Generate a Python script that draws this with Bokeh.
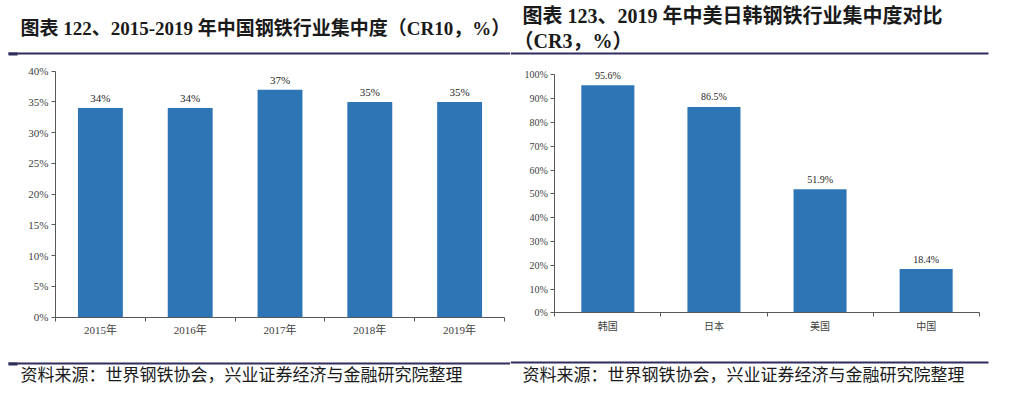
from bokeh.plotting import figure
from bokeh.models import (ColumnDataSource, Range1d, LinearAxis,
                          FixedTicker, PrintfTickFormatter, LabelSet, Label, BoxAnnotation)
from bokeh.layouts import row
from bokeh.core.properties import value
from bokeh.embed import file_html
from bokeh.resources import INLINE

# ---------------- data ----------------
left_title = "图表 122、2015-2019 年中国钢铁行业集中度（CR10，%）"
left_cats = ["2015年", "2016年", "2017年", "2018年", "2019年"]
left_vals = [34, 34, 37, 35, 35]
left_ticks = [0, 5, 10, 15, 20, 25, 30, 35, 40]

right_title_1 = "图表 123、2019 年中美日韩钢铁行业集中度对比"
right_title_2 = "（CR3，%）"
right_cats = ["韩国", "日本", "美国", "中国"]
right_vals = [95.6, 86.5, 51.9, 18.4]
right_ticks = [0, 10, 20, 30, 40, 50, 60, 70, 80, 90, 100]

source_text = "资料来源：世界钢铁协会，兴业证券经济与金融研究院整理"

BAR = "#2E75B6"
AXIS = "#595959"
NAVY = "#302D5F"
FONT = "Liberation Serif, Noto Sans CJK SC"
H = 388


def span(lo_px, hi_px, total_px, lo_val, hi_val):
    """Range whose lo_val/hi_val land at lo_px/hi_px of a total_px long frame."""
    scale = (hi_px - lo_px) / (hi_val - lo_val)
    start = lo_val - lo_px / scale
    return Range1d(start, start + total_px / scale)


def make_panel(width, cats, vals, ticks, ymax, fmt, plot_box, tick_font, cat_font, lab_font, cat_standoff):
    x0, x1, ytop, ybot = plot_box  # canvas pixels (y from top)
    n = len(cats)
    centers = [i + 0.5 for i in range(n)]
    p = figure(width=width, height=H,
               x_range=span(x0, x1, width, 0, n),
               y_range=span(H - ybot, H - ytop, H, 0, ymax),
               output_backend="svg", toolbar_location=None,
               x_axis_location=None, y_axis_location=None,
               min_border=0, min_border_left=0, min_border_right=0, min_border_top=0, min_border_bottom=0)
    p.outline_line_color = None
    p.xgrid.visible = False
    p.ygrid.visible = False
    p.background_fill_color = "white"
    p.border_fill_color = "white"

    src = ColumnDataSource(dict(x=centers, y=vals, t=[fmt(v) for v in vals]))
    p.vbar(x="x", top="y", width=0.5, source=src, fill_color=BAR, line_color=None)
    p.add_layout(LabelSet(x="x", y="y", text="t", source=src, y_offset=10,
                          text_align="center", text_baseline="middle",
                          text_font=value(FONT), text_font_size=value(lab_font), text_color="#262626"))

    yax = LinearAxis(ticker=FixedTicker(ticks=ticks), formatter=PrintfTickFormatter(format="%d%%"),
                     fixed_location=0, bounds=(0, ymax),
                     axis_line_color=AXIS, major_tick_line_color=AXIS, major_tick_in=0, major_tick_out=4,
                     minor_tick_line_color=None, minor_tick_out=0, major_label_standoff=3,
                     major_label_text_font=FONT, major_label_text_font_size=tick_font,
                     major_label_text_color="#404040")
    p.add_layout(yax, "left")

    eax = LinearAxis(ticker=FixedTicker(ticks=list(range(n + 1))), fixed_location=0, bounds=(0, n),
                     axis_line_color=AXIS, major_tick_line_color=AXIS, major_tick_in=0, major_tick_out=4,
                     minor_tick_line_color=None, minor_tick_out=0, major_label_standoff=0,
                     major_label_text_font_size="0px", major_label_text_color=None)
    p.add_layout(eax, "below")
    cax = LinearAxis(ticker=FixedTicker(ticks=centers), fixed_location=0,
                     major_label_overrides={c: name for c, name in zip(centers, cats)},
                     axis_line_color=None, major_tick_line_color=None, minor_tick_line_color=None,
                     major_tick_out=0, minor_tick_out=0, major_tick_in=0, minor_tick_in=0,
                     major_label_standoff=cat_standoff, major_label_text_font=FONT,
                     major_label_text_font_size=cat_font, major_label_text_color="#404040")
    p.add_layout(cax, "below")
    return p


def canvas_label(p, x, y, text, size, bold=False, color="#1A1A1A"):
    p.add_layout(Label(x=x, y=y, x_units="canvas", y_units="canvas", text=text,
                       text_font=FONT, text_font_size=size,
                       text_font_style="bold" if bold else "normal",
                       text_color=color, text_baseline="middle", text_align="left"))


def canvas_box(p, l, r, t, b):
    p.add_layout(BoxAnnotation(left=l, right=r, top=t, bottom=b,
                               left_units="canvas", right_units="canvas",
                               top_units="canvas", bottom_units="canvas",
                               fill_color=NAVY, fill_alpha=1.0, line_color=None))


left = make_panel(510, left_cats, left_vals, left_ticks, 40, lambda v: f"{v:.0f}%",
                  (55, 504, 70.7, 316.7), "11px", "11px", "11px", 7)
canvas_label(left, 20, 28, left_title, "19px", bold=True)
canvas_box(left, 8, 510, 52, 54)
canvas_box(left, 8, 17, 52, 55)
canvas_box(left, 8, 510, 362, 364)
canvas_box(left, 8, 17, 362, 365)
canvas_label(left, 20, 375, source_text, "17px")

right = make_panel(493, right_cats, right_vals, right_ticks, 100, lambda v: f"{v:.1f}%",
                   (44.3, 468.7, 74.3, 312.3), "10px", "10px", "10px", 8)
canvas_label(right, 12, 15, right_title_1, "20px", bold=True)
canvas_label(right, 3, 40, right_title_2, "20px", bold=True)
canvas_box(right, 0, 478, 52, 54)
canvas_box(right, 0, 478, 361, 363)
canvas_label(right, 12, 375, source_text, "17px")

layout = row(left, right)
open("out.html", "w").write(file_html(layout, INLINE))
